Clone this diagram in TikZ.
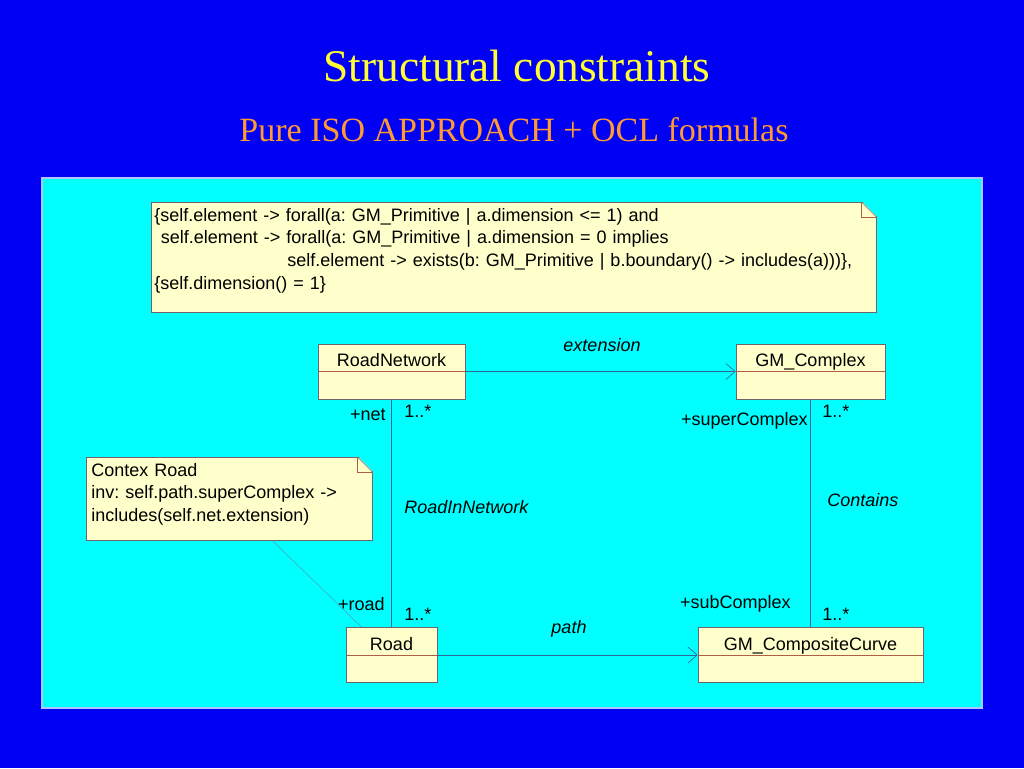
\documentclass[tikz,border=0pt]{standalone}
\usepackage{fontspec}
\setmainfont{Liberation Serif}
\setsansfont{Liberation Sans}
\usetikzlibrary{arrows.meta}
\frenchspacing

\definecolor{slideblue}{RGB}{0,0,245}
\definecolor{panelcyan}{RGB}{0,255,255}
\definecolor{panelrim}{RGB}{170,200,255}
\definecolor{titleyellow}{RGB}{255,255,51}
\definecolor{subtitleorange}{RGB}{255,153,51}
\definecolor{notefill}{RGB}{255,255,204}
\definecolor{boxline}{RGB}{110,100,110}
\definecolor{divline}{RGB}{175,95,70}
\definecolor{assocline}{RGB}{50,100,150}
\definecolor{noteline}{RGB}{80,160,180}

\begin{document}
\begin{tikzpicture}[x=0.75pt,y=-0.75pt,
    font=\sffamily\fontsize{13.5}{17}\selectfont,
    umlclass/.style={draw=boxline,fill=notefill,inner ysep=0pt,
      text height=16.9pt,text depth=24.4pt,
      path picture={\draw[divline] (path picture bounding box.west) -- (path picture bounding box.east);}},
    oclnote/.style={draw=boxline,fill=notefill,align=left,inner ysep=0pt,anchor=north west},
    notefold/.style={draw=divline,line width=0.4pt}]

  \fill[slideblue] (0,0) rectangle (1024,768);
  \filldraw[fill=panelcyan,draw=panelrim,line width=0.8pt] (42,178) rectangle (982,708);

  \node[text=titleyellow,font=\rmfamily\fontsize{34}{40}\selectfont] (title) at (517,66) {Structural constraints};
  \node[text=subtitleorange,font=\rmfamily\fontsize{25.5}{30}\selectfont] (subtitle) at (514,130) {Pure ISO APPROACH + OCL formulas};

  \node[oclnote,inner xsep=2.25pt,text width=539.25pt,text height=14.25pt,text depth=68.25pt] (dimrule) at (151,202)
    {\{self.element -> forall(a: GM\_Primitive | a.dimension <= 1) and\\
     \hspace*{5pt}self.element -> forall(a: GM\_Primitive | a.dimension = 0 implies\\
     \hspace*{99.75pt}self.element -> exists(b: GM\_Primitive | b.boundary() -> includes(a)))\},\\
     \{self.dimension() = 1\}};
  \node[oclnote,inner xsep=3.75pt,text width=207pt,text height=14.25pt,text depth=48pt] (roadrule) at (86,457)
    {Contex Road\\inv: self.path.superComplex ->\\includes(self.net.extension)};

  \fill[panelcyan] ([xshift=-11.25pt,yshift=0.8pt]dimrule.north east) -- ([xshift=0.8pt,yshift=0.8pt]dimrule.north east) -- ([xshift=0.8pt,yshift=-11.25pt]dimrule.north east) -- cycle;
  \draw[boxline,line width=0.4pt] ([xshift=-11.25pt]dimrule.north east) -- ([yshift=-11.25pt]dimrule.north east);
  \draw[notefold] ([xshift=-11.25pt]dimrule.north east) |- ([yshift=-11.25pt]dimrule.north east);
  \fill[panelcyan] ([xshift=-11.25pt,yshift=0.8pt]roadrule.north east) -- ([xshift=0.8pt,yshift=0.8pt]roadrule.north east) -- ([xshift=0.8pt,yshift=-11.25pt]roadrule.north east) -- cycle;
  \draw[boxline,line width=0.4pt] ([xshift=-11.25pt]roadrule.north east) -- ([yshift=-11.25pt]roadrule.north east);
  \draw[notefold] ([xshift=-11.25pt]roadrule.north east) |- ([yshift=-11.25pt]roadrule.north east);

  \node[umlclass,minimum width=110.25pt] (roadnet) at (391.5,371.5) {RoadNetwork};
  \node[umlclass,minimum width=111.75pt] (complex) at (810.5,371.5) {GM\_Complex};
  \node[umlclass,minimum width=68.25pt]  (road)    at (391.5,655)   {Road};
  \node[umlclass,minimum width=168.75pt] (curve)   at (810.5,655)   {GM\_CompositeCurve};

  \begin{scope}[every edge/.style={draw=assocline,line width=0.5pt}]
    \path (roadnet) edge[-{Straight Barb[length=7pt,width=12pt]}] (complex);
    \path (road)    edge[-{Straight Barb[length=7pt,width=12pt]}] (curve);
    \path (roadnet) edge (road);
    \path (complex) edge (curve);
    \path ([xshift=32.25pt]roadrule.south) edge[draw=noteline,line width=0.4pt] ([xshift=12pt]road.north west);
  \end{scope}

  \begin{scope}[every node/.style={inner sep=0pt}]
    \node (extlabel)   at (602,345) {\itshape extension};
    \node (pathlabel)  at (569,629) {\itshape path};
    \node (innetlabel) [anchor=west] at (404,507) {\itshape RoadInNetwork};
    \node (contlabel)  [anchor=west] at (827,500) {\itshape Contains};
    \node (netrole)    [anchor=east] at (386,415) {+net};
    \node (netmult)    [anchor=west] at (404,411) {1..*};
    \node (suprole)    [anchor=east] at (808,421) {+superComplex};
    \node (supmult)    [anchor=west] at (822,411) {1..*};
    \node (roadrole)   [anchor=east] at (385,604) {+road};
    \node (roadmult)   [anchor=west] at (404,614) {1..*};
    \node (subrole)    [anchor=east] at (791,604) {+subComplex};
    \node (submult)    [anchor=west] at (822,614) {1..*};
  \end{scope}

\end{tikzpicture}
\end{document}
